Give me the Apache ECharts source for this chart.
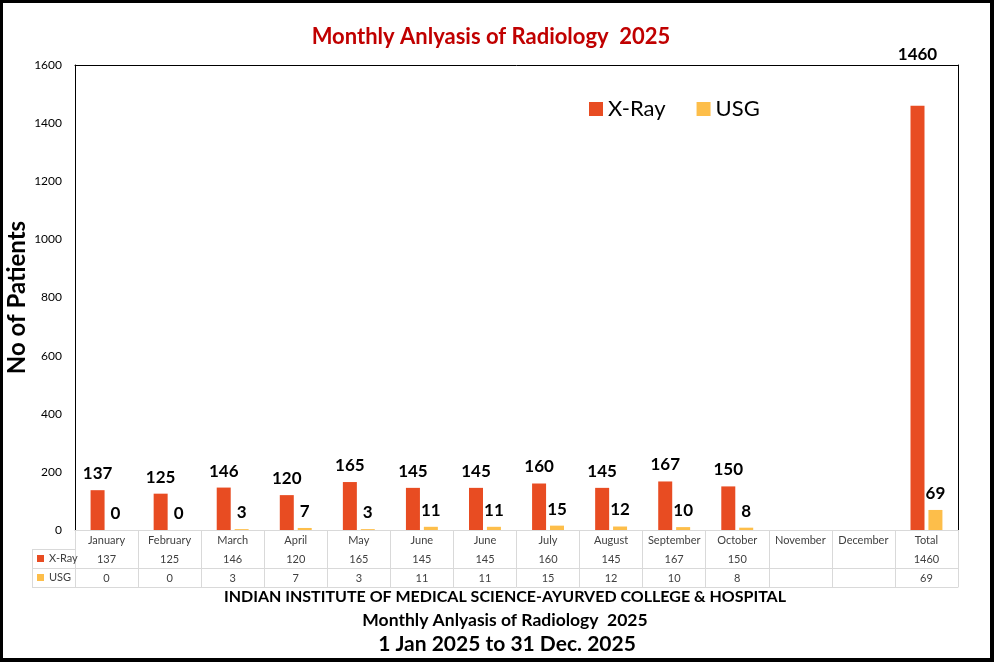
<!DOCTYPE html>
<html><head><meta charset="utf-8">
<script src="https://cdn.jsdelivr.net/npm/echarts@6/dist/echarts.min.js"></script>
<style>
html,body{margin:0;padding:0;background:#fff}
#c{width:994px;height:662px;position:absolute;left:0;top:0}
#b{position:absolute;left:0;top:0;width:994px;height:662px;box-sizing:border-box;border-style:solid;border-color:#000;border-width:3px 4px 4px 3px;pointer-events:none;z-index:10}
</style>
</head><body><div id="c"></div><div id="b"></div>
<script>
const categories = ['January','February','March','April','May','June','June','July','August','September','October','November','December','Total'];
const xray = [137,125,146,120,165,145,145,160,145,167,150,null,null,1460];
const usg = [0,0,3,7,3,11,11,15,12,10,8,null,null,69];
const yMin = 0, yMax = 1600, yStep = 200;
const seriesNames = ['X-Ray','USG'];
const titleText = 'Monthly Anlyasis of Radiology  2025';
const footer1 = 'INDIAN INSTITUTE OF MEDICAL SCIENCE-AYURVED COLLEGE & HOSPITAL';
const footer2 = 'Monthly Anlyasis of Radiology  2025';
const footer3 = '1 Jan 2025 to 31 Dec. 2025';

const FONT = 'Lato';
const C_X = '#E84C22', C_U = '#FDBE4A';
const GRID_C = '#d9d9d9';

const chart = echarts.init(document.getElementById('c'));
const baseX = {type:'category', data:categories, position:'bottom', boundaryGap:true, gridIndex:0};
const rowLabel = (arr) => ({interval:0, margin:5, fontSize:11, color:'#404040', fontFamily:FONT,
  formatter:(v,i)=> arr[i]==null ? '' : String(arr[i])});

const lbl = {show:true, position:'top', distance:8, fontSize:17, fontWeight:'bold', color:'#000', fontFamily:FONT};

chart.setOption({
  animation:false,
  textStyle:{fontFamily:FONT},
  title:{text:titleText, left:486, top:21, textAlign:'center',
    textStyle:{color:'#C00000', fontSize:22, fontWeight:'bold', fontFamily:FONT}},
  legend:[
    {data:seriesNames, left:589, top:98, padding:0, itemWidth:14, itemHeight:14, itemGap:31, icon:'rect', selectedMode:false,
      textStyle:{fontSize:22, color:'#000', fontFamily:FONT}},
    {data:seriesNames, left:37, top:552, padding:0, orient:'vertical', itemWidth:7, itemHeight:7, itemGap:6, icon:'rect', selectedMode:false,
      textStyle:{fontSize:11, lineHeight:13, color:'#404040', fontFamily:FONT}}
  ],
  grid:{left:75, right:36, top:65, bottom:132, containLabel:false, outerBoundsMode:'none'},
  xAxis:[
    {...baseX, axisLine:{show:true, lineStyle:{color:GRID_C}},
      axisTick:{show:true, interval:0, length:57, lineStyle:{color:GRID_C}},
      axisLabel:{interval:0, margin:5, fontSize:11, color:'#404040', fontFamily:FONT}},
    {...baseX, offset:19, axisLine:{show:true, lineStyle:{color:GRID_C}}, axisTick:{show:false}, axisLabel:rowLabel(xray)},
    {...baseX, offset:38, axisLine:{show:true, lineStyle:{color:GRID_C}}, axisTick:{show:false}, axisLabel:rowLabel(usg)},
    {...baseX, offset:57, axisLine:{show:true, lineStyle:{color:GRID_C}}, axisTick:{show:false}, axisLabel:{show:false}},
    {...baseX, position:'top', axisLine:{show:true, lineStyle:{color:'#000'}}, axisTick:{show:false}, axisLabel:{show:false}}
  ],
  yAxis:[
    {type:'value', min:yMin, max:yMax, interval:yStep, position:'left',
      name:'No of Patients', nameLocation:'middle', nameGap:46, nameMoveOverlap:false,
      nameTextStyle:{fontSize:24, fontWeight:'bold', color:'#000', fontFamily:FONT},
      axisLine:{show:true, lineStyle:{color:'#000'}}, axisTick:{show:false}, splitLine:{show:false},
      axisLabel:{margin:13, fontSize:12, color:'#000', fontFamily:FONT, formatter:(v)=>String(v)}},
    {type:'value', min:yMin, max:yMax, interval:yStep, position:'right',
      axisLine:{show:true, lineStyle:{color:'#000'}}, axisTick:{show:false}, splitLine:{show:false}, axisLabel:{show:false}}
  ],
  series:[
    {name:seriesNames[0], type:'bar', xAxisIndex:0, yAxisIndex:0, barWidth:14, barGap:'28%',
      itemStyle:{color:C_X}, label:lbl,
      data: xray.map((v,i)=> i===categories.length-1 ? {value:v, label:{distance:43}} : v)},
    {name:seriesNames[1], type:'bar', xAxisIndex:0, yAxisIndex:0, barWidth:14, barGap:'28%',
      itemStyle:{color:C_U}, label:lbl, data: usg}
  ],
  graphic:[
    {type:'line', shape:{x1:32, y1:549.5, x2:75, y2:549.5}, style:{stroke:GRID_C, lineWidth:1}},
    {type:'line', shape:{x1:32, y1:568.5, x2:75, y2:568.5}, style:{stroke:GRID_C, lineWidth:1}},
    {type:'line', shape:{x1:32, y1:587.5, x2:75, y2:587.5}, style:{stroke:GRID_C, lineWidth:1}},
    {type:'line', shape:{x1:32.5, y1:549, x2:32.5, y2:588}, style:{stroke:GRID_C, lineWidth:1}},
    {type:'text', x:505, y:597, style:{text:footer1, textAlign:'center', textVerticalAlign:'middle', fill:'#000', font:'bold 16px '+FONT}},
    {type:'text', x:505, y:620, style:{text:footer2, textAlign:'center', textVerticalAlign:'middle', fill:'#000', font:'bold 17.5px '+FONT}},
    {type:'text', x:507, y:644, style:{text:footer3, textAlign:'center', textVerticalAlign:'middle', fill:'#000', font:'bold 21px '+FONT}}
  ]
});
</script>
</body></html>
